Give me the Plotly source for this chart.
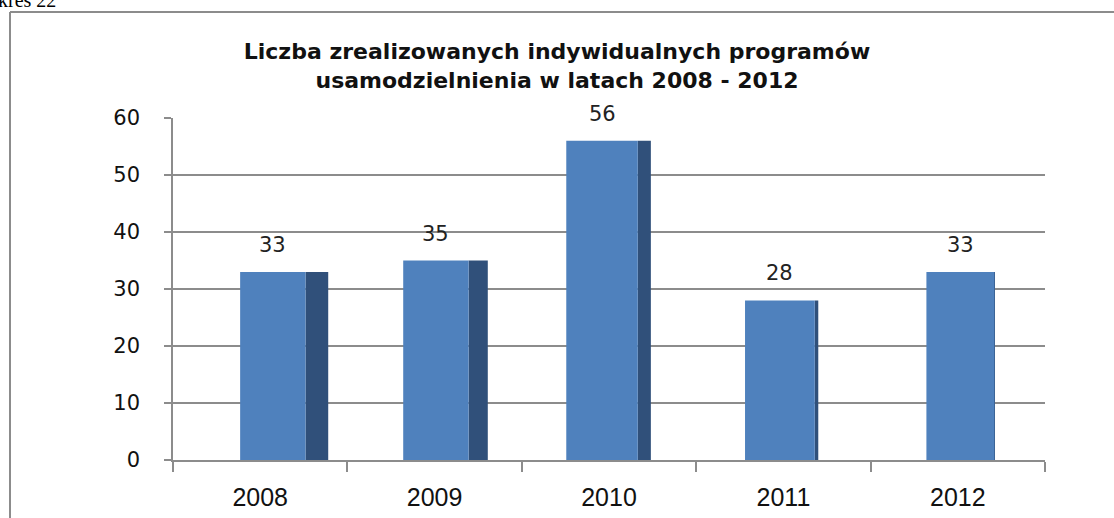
import plotly.graph_objects as go

years = ["2008", "2009", "2010", "2011", "2012"]
values = [33, 35, 56, 28, 33]
y_ticks = [0, 10, 20, 30, 40, 50, 60]
title_text = "Liczba zrealizowanych indywidualnych programów<br>usamodzielnienia w latach 2008 - 2012"
caption_text = "kres 22"

W, H = 1114, 518
L, R, T, B = 173, 69, 118, 58
PW, PH = W - L - R, H - T - B

def px(x):
    return (x - L) / PW

def py(y):
    return (H - B - y) / PH

pos = list(range(len(years)))
bounds = [p - 0.5 for p in pos] + [pos[-1] + 0.5]

# perspective-like styling per bar (front face offset/width, side face width)
front_off = [-0.115, -0.18, -0.245, -0.22, -0.18]
front_w = [0.375, 0.375, 0.41, 0.40, 0.39]
side_w = [0.13, 0.11, 0.075, 0.02, 0.0]
side_off = [o + w for o, w in zip(front_off, front_w)]

fig = go.Figure()
fig.add_trace(go.Bar(
    x=pos, y=values, width=side_w, offset=side_off,
    marker=dict(color="#30507A", line=dict(width=0)), hoverinfo="skip", showlegend=False))
fig.add_trace(go.Bar(
    x=pos, y=values, width=front_w, offset=front_off,
    marker=dict(color="#4F81BD", line=dict(width=0)), showlegend=False))

for p, v, o, w in zip(pos, values, front_off, front_w):
    fig.add_annotation(x=p + o + w / 2, y=v, xref="x", yref="y", text=str(v), showarrow=False,
                       yshift=27, font=dict(family="DejaVu Sans", size=21, color="#222"))

fig.update_layout(
    width=W, height=H, barmode="overlay",
    margin=dict(l=L, r=R, t=T, b=B, autoexpand=False),
    paper_bgcolor="white", plot_bgcolor="white",
    title=dict(text=title_text, x=0.5, xanchor="center", y=1 - 59 / H, yanchor="middle",
               font=dict(family="DejaVu Sans", size=22, color="#111", weight="bold")),
    xaxis=dict(range=[-0.5, 4.5], tickvals=pos, ticktext=years, automargin=False,
               showgrid=False, showline=True, zeroline=False,
               linecolor="#8C8C8C", linewidth=1.5,
               ticks="", ticklabelstandoff=14, tickangle=0,
               minor=dict(tickvals=bounds, ticks="outside", ticklen=10,
                          tickcolor="#8C8C8C", tickwidth=1.5, showgrid=False),
               tickfont=dict(family="Liberation Sans Narrow, Liberation Sans", size=25, color="#111")),
    yaxis=dict(range=[0, 60], tickvals=y_ticks, automargin=False, showgrid=True,
               gridcolor="#8C8C8C", gridwidth=1.5,
               showline=True, linecolor="#8C8C8C", linewidth=1.5, ticks="outside", ticklen=7,
               tickcolor="#8C8C8C", tickwidth=1.5, ticklabelstandoff=20, zeroline=False,
               tickfont=dict(family="DejaVu Sans", size=21, color="#111")),
)

# chart frame
fig.add_shape(type="line", xref="paper", yref="paper", x0=px(10), x1=px(10), y0=py(12), y1=py(520),
              line=dict(color="#8C8C8C", width=2))
fig.add_shape(type="line", xref="paper", yref="paper", x0=px(10), x1=px(1116), y0=py(12), y1=py(12),
              line=dict(color="#8C8C8C", width=2))

fig.add_annotation(text=caption_text, xref="paper", yref="paper", x=px(-4), y=py(13),
                   xanchor="left", yanchor="bottom", showarrow=False,
                   font=dict(family="Liberation Serif", size=20, color="#000"))

fig.write_html("out.html", config={"displayModeBar": False},
               post_script="document.body.style.margin='0';")
